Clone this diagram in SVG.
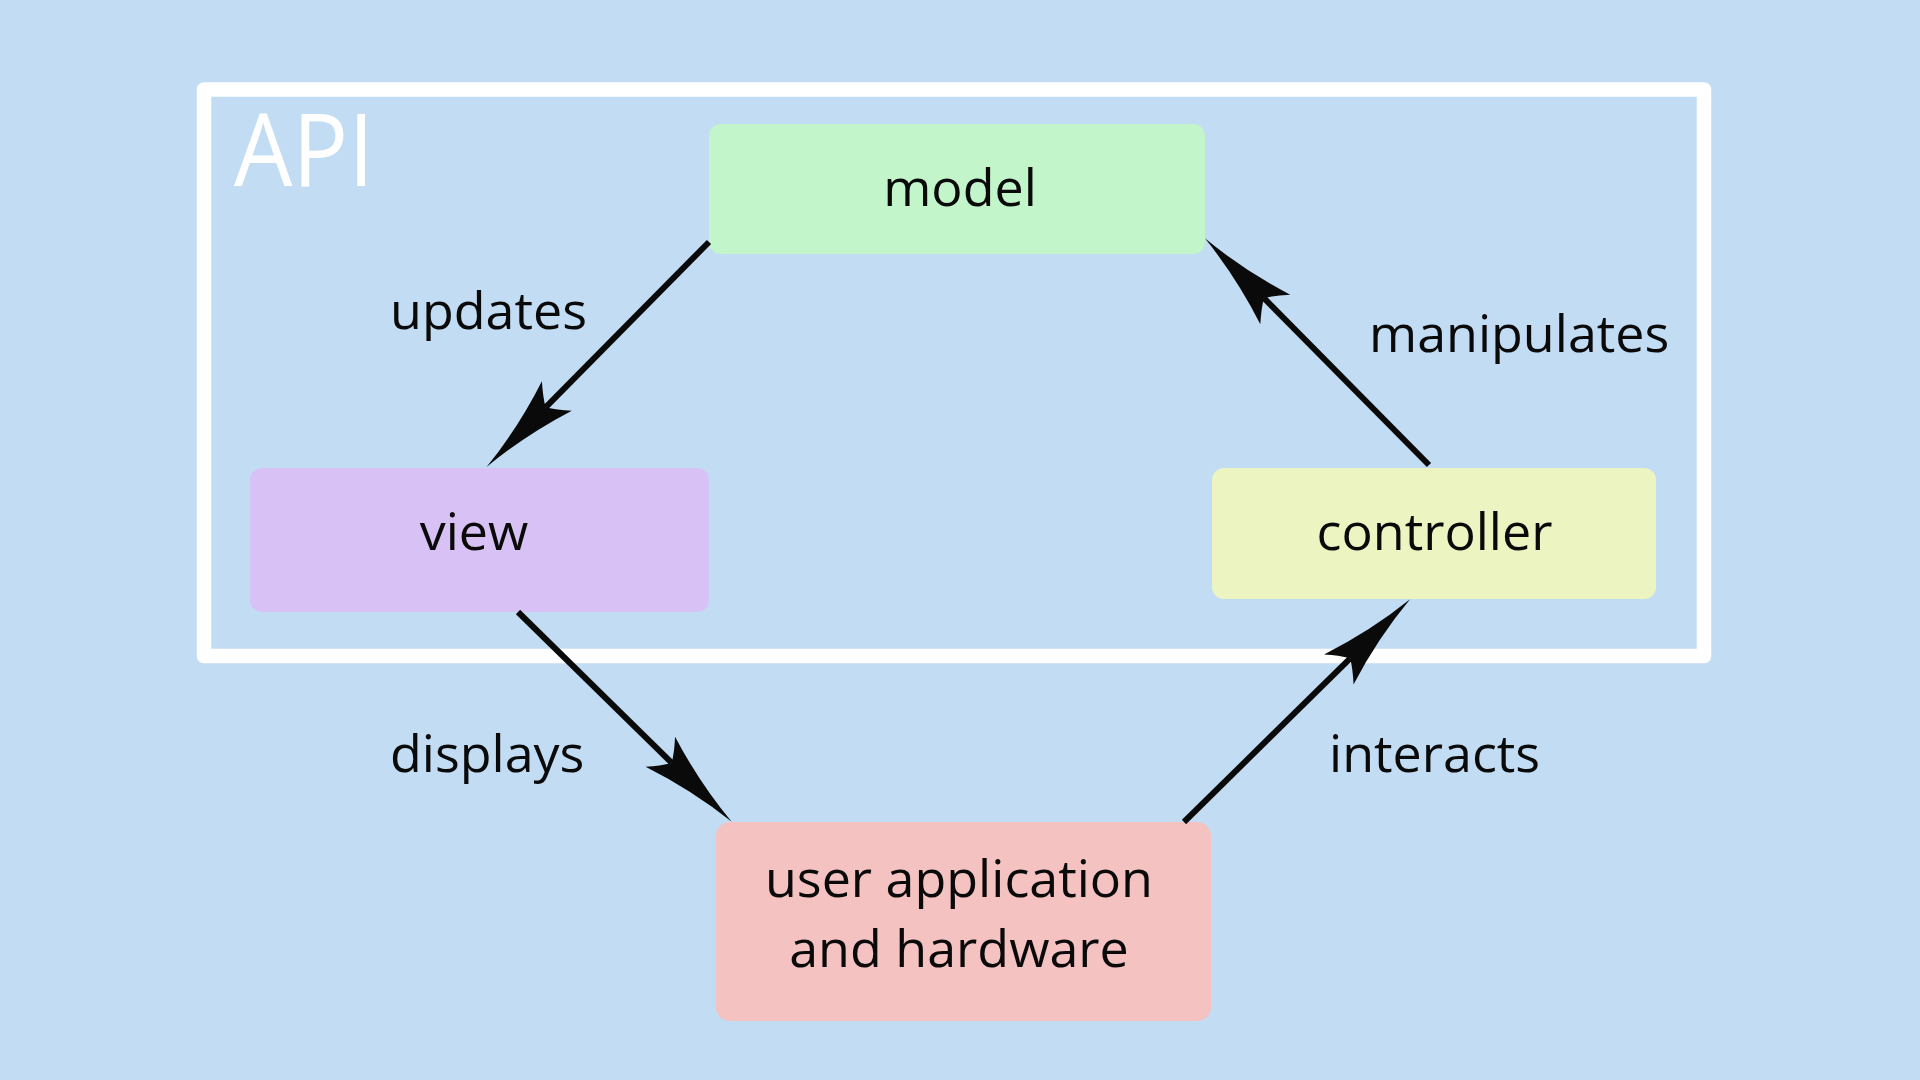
<svg xmlns="http://www.w3.org/2000/svg" width="1920" height="1080" viewBox="0 0 1920 1080">
  <style>
    .lbl { font-family: "Open Sans", "Noto Sans", "Liberation Sans", sans-serif; font-size: 52px; fill: #0a0a0a; }
    .ctr { text-anchor: middle; }
    .conn { stroke: #0a0a0a; stroke-width: 6; fill: none; marker-end: url(#head); }
    .api { font-family: "Open Sans", "Noto Sans", "Liberation Sans", sans-serif; font-size: 100px; font-weight: 400; fill: #ffffff; }
  </style>
  <defs>
    <marker id="head" markerUnits="userSpaceOnUse" viewBox="-110 -30 120 60" refX="-84" refY="0" markerWidth="120" markerHeight="60" orient="auto" overflow="visible">
      <path d="M0,0 Q-50,-5 -100,-21 Q-90,-10 -84,0 Q-90,10 -100,21 Q-50,5 0,0 Z" fill="#0a0a0a"/>
    </marker>
  </defs>
  <rect x="0" y="0" width="1920" height="1080" fill="#c2dcf3"/>

  <g id="api-frame">
    <rect x="204" y="89.5" width="1500" height="566.5" fill="none" stroke="#ffffff" stroke-width="14.5" stroke-linejoin="round"/>
    <text class="api" x="234" y="186" textLength="140" lengthAdjust="spacingAndGlyphs">API</text>
  </g>

  <g id="model">
    <rect x="709" y="124" width="496" height="130" rx="12" fill="#c2f5c9"/>
    <text class="lbl ctr" x="960" y="206">model</text>
  </g>

  <g id="view">
    <rect x="250" y="468" width="459" height="144" rx="12" fill="#d8c2f5"/>
    <text class="lbl ctr" x="474" y="550">view</text>
  </g>

  <g id="controller">
    <rect x="1212" y="468" width="444" height="131" rx="12" fill="#ecf5c2"/>
    <text class="lbl ctr" x="1434.5" y="550">controller</text>
  </g>

  <g id="user">
    <rect x="716" y="822" width="495" height="199" rx="14" fill="#f5c2c2"/>
    <text class="lbl ctr" x="959" y="897">user application</text>
    <text class="lbl ctr" x="959" y="967">and hardware</text>
  </g>

  <g id="connectors">
    <path class="conn" d="M709,242 L545.6,407.3"/>
    <path class="conn" d="M1429,465 L1264,298.1"/>
    <path class="conn" d="M518,612 L671.75,762.9"/>
    <path class="conn" d="M1184,822 L1350.2,658.3"/>
    <text class="lbl" x="390" y="329">updates</text>
    <text class="lbl" x="1369" y="352">manipulates</text>
    <text class="lbl" x="390" y="772">displays</text>
    <text class="lbl" x="1329" y="772">interacts</text>
  </g>
</svg>
